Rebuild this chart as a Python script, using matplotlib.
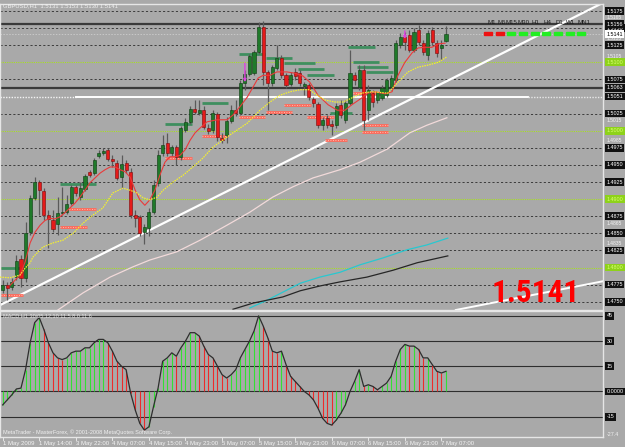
import matplotlib
matplotlib.use('Agg')
import matplotlib.pyplot as plt
from matplotlib import font_manager

# ---------------- data ----------------
opens = [1.4767, 1.4774, 1.4771, 1.4786, 1.4813, 1.4784, 1.4852, 1.4902, 1.4925, 1.4912,
         1.4877, 1.4869, 1.4864, 1.4880, 1.4881, 1.4894, 1.4918, 1.4903, 1.4915, 1.4940,
         1.4938, 1.4963, 1.4967, 1.4972, 1.4959, 1.4953, 1.4932, 1.4953, 1.4940, 1.4877,
         1.4874, 1.4852, 1.4858, 1.4881, 1.4924, 1.4967, 1.4982, 1.4967, 1.4976, 1.4961,
         1.5001, 1.5013, 1.5032, 1.5026, 1.5030, 1.5004, 1.5001, 1.5024, 1.4989, 1.4994,
         1.5014, 1.5030, 1.5026, 1.5070, 1.5083, 1.5084, 1.5115, 1.5152, 1.5086, 1.5070,
         1.5092, 1.5106, 1.5081, 1.5068, 1.5086, 1.5084, 1.5065, 1.5067, 1.5046, 1.5039,
         1.5008, 1.5018, 1.5010, 1.5008, 1.5038, 1.5016, 1.5040, 1.5081, 1.5064, 1.5089,
         1.5030, 1.5055, 1.5045, 1.5048, 1.5052, 1.5064, 1.5074, 1.5125, 1.5137, 1.5140,
         1.5118, 1.5147, 1.5128, 1.5111, 1.5147, 1.5128, 1.5121, 1.5131]
highs = [1.4782, 1.4779, 1.4784, 1.4818, 1.4818, 1.4866, 1.4906, 1.4932, 1.4928, 1.4916,
         1.4884, 1.4884, 1.4903, 1.4918, 1.4906, 1.4921, 1.4921, 1.4925, 1.4937, 1.4943,
         1.4960, 1.4972, 1.4975, 1.4975, 1.4964, 1.4957, 1.4964, 1.4957, 1.4946, 1.4884,
         1.4877, 1.4864, 1.4887, 1.4928, 1.4972, 1.4994, 1.4997, 1.4979, 1.4979, 1.5007,
         1.5018, 1.5036, 1.5045, 1.5045, 1.5036, 1.5010, 1.5030, 1.5027, 1.4997, 1.5020,
         1.5038, 1.5045, 1.5074, 1.5089, 1.5112, 1.5118, 1.5159, 1.5160, 1.5089, 1.5096,
         1.5125, 1.5111, 1.5084, 1.5086, 1.5092, 1.5089, 1.5071, 1.5070, 1.5049, 1.5042,
         1.5020, 1.5023, 1.5016, 1.5040, 1.5045, 1.5045, 1.5118, 1.5086, 1.5096, 1.5096,
         1.5067, 1.5060, 1.5057, 1.5067, 1.5077, 1.5081, 1.5133, 1.5143, 1.5144, 1.5147,
         1.5150, 1.5155, 1.5133, 1.5147, 1.5152, 1.5133, 1.5133, 1.5153]
lows = [1.4763, 1.4752, 1.4767, 1.4782, 1.4771, 1.4779, 1.4847, 1.4899, 1.4877, 1.4869,
        1.4828, 1.4852, 1.4847, 1.4877, 1.4878, 1.4891, 1.4905, 1.4899, 1.4912, 1.4932,
        1.4935, 1.4960, 1.4964, 1.4956, 1.4947, 1.4928, 1.4916, 1.4938, 1.4872, 1.4859,
        1.4846, 1.4834, 1.4846, 1.4878, 1.4919, 1.4963, 1.4963, 1.4963, 1.4950, 1.4957,
        1.4998, 1.5010, 1.5024, 1.5023, 1.5002, 1.4995, 1.4997, 1.4985, 1.4982, 1.4982,
        1.5011, 1.5021, 1.5023, 1.5060, 1.5080, 1.5081, 1.5112, 1.5067, 1.5030, 1.5065,
        1.5089, 1.5077, 1.5062, 1.5065, 1.5074, 1.5065, 1.5052, 1.5045, 1.5035, 1.5004,
        1.5001, 1.5004, 1.4994, 1.5004, 1.5018, 1.5011, 1.5038, 1.5067, 1.5060, 1.5001,
        1.5016, 1.5035, 1.5040, 1.5045, 1.5049, 1.5060, 1.5071, 1.5121, 1.5118, 1.5115,
        1.5115, 1.5125, 1.5111, 1.5103, 1.5125, 1.5108, 1.5103, 1.5130]
closes = [1.4774, 1.4770, 1.4779, 1.4810, 1.4784, 1.4850, 1.4902, 1.4925, 1.4913, 1.4877,
          1.4871, 1.4856, 1.4880, 1.4881, 1.4893, 1.4918, 1.4909, 1.4916, 1.4934, 1.4935,
          1.4957, 1.4967, 1.4970, 1.4959, 1.4956, 1.4931, 1.4951, 1.4943, 1.4877, 1.4872,
          1.4850, 1.4859, 1.4881, 1.4921, 1.4964, 1.4979, 1.4967, 1.4976, 1.4961, 1.5004,
          1.5013, 1.5032, 1.5027, 1.5030, 1.5005, 1.4999, 1.5026, 1.4991, 1.4986, 1.5014,
          1.5030, 1.5026, 1.5070, 1.5083, 1.5109, 1.5115, 1.5152, 1.5086, 1.5070, 1.5093,
          1.5106, 1.5081, 1.5067, 1.5081, 1.5080, 1.5070, 1.5068, 1.5049, 1.5040, 1.5008,
          1.5016, 1.5008, 1.5007, 1.5036, 1.5023, 1.5040, 1.5084, 1.5074, 1.5089, 1.5016,
          1.5060, 1.5042, 1.5057, 1.5062, 1.5074, 1.5077, 1.5128, 1.5137, 1.5130, 1.5118,
          1.5144, 1.5130, 1.5115, 1.5143, 1.5130, 1.5114, 1.5125, 1.5141]

# moving averages (bar position, price)
ma_red_x = [1.6, 3.8, 4.9, 6.0, 7.1, 8.2, 9.3, 10.4, 11.4, 12.5, 13.6, 14.7, 15.8, 16.9, 18.0,
            19.1, 20.2, 21.3, 22.4, 23.5, 24.6, 25.7, 26.8, 27.9, 29.0, 30.0, 31.1, 32.2, 33.3,
            34.4, 35.5, 36.6, 37.7, 38.8, 39.9, 41.0, 42.1, 43.2, 44.7, 46.9, 49.1, 50.4, 51.9,
            53.5, 54.8, 55.9, 57.0, 58.5, 60.0, 62.2, 64.0, 65.7, 67.2, 69.0, 71.2, 73.2, 74.9,
            76.4, 78.6, 79.9, 81.5, 83.7, 85.2, 86.5, 88.0, 89.6, 90.9, 92.4, 93.9, 95.3, 96.8]
ma_red_y = [1.4774, 1.4789, 1.4808, 1.4836, 1.4852, 1.4862, 1.4869, 1.4872, 1.4871, 1.4874,
            1.4880, 1.4887, 1.4894, 1.4903, 1.4913, 1.4924, 1.4931, 1.4938, 1.4943, 1.4947,
            1.4947, 1.4943, 1.4940, 1.4932, 1.4913, 1.4899, 1.4891, 1.4899, 1.4913, 1.4935,
            1.4954, 1.4962, 1.4962, 1.4964, 1.4972, 1.4986, 1.4997, 1.5004, 1.5013, 1.5016,
            1.5016, 1.5023, 1.5035, 1.5049, 1.5064, 1.5077, 1.5081, 1.5081, 1.5086, 1.5086,
            1.5084, 1.5080, 1.5071, 1.5052, 1.5038, 1.5030, 1.5030, 1.5038, 1.5048, 1.5055,
            1.5057, 1.5054, 1.5057, 1.5081, 1.5100, 1.5114, 1.5121, 1.5122, 1.5122, 1.5127,
            1.5128]
ma_yel_x = [-0.6, 1.6, 3.8, 4.9, 6.0, 6.6, 8.8, 11.0, 13.2, 15.4, 17.6, 19.8, 21.9, 24.1, 26.3,
            27.9, 29.4, 30.7, 32.2, 33.8, 35.1, 37.3, 39.5, 41.6, 43.8, 46.0, 50.4, 53.5, 56.3,
            58.5, 60.7, 62.9, 65.1, 67.2, 68.3, 70.5, 72.7, 74.5, 76.4, 78.6, 80.8, 84.3, 86.5,
            88.7, 90.9, 93.1, 95.3, 97.2]
ma_yel_y = [1.4786, 1.4785, 1.4789, 1.4799, 1.4807, 1.4815, 1.4830, 1.4836, 1.4840, 1.4850,
            1.4865, 1.4877, 1.4887, 1.4909, 1.4916, 1.4913, 1.4909, 1.4902, 1.4899, 1.4903,
            1.4913, 1.4925, 1.4935, 1.4947, 1.4960, 1.4976, 1.4997, 1.5011, 1.5030, 1.5042,
            1.5052, 1.5057, 1.5060, 1.5060, 1.5054, 1.5045, 1.5042, 1.5042, 1.5048, 1.5055,
            1.5057, 1.5055, 1.5071, 1.5086, 1.5093, 1.5096, 1.5100, 1.5108]
ma_pink_x = [12.1, 17.6, 23.5, 28.5, 32.2, 38.1, 43.2, 49.1, 54.1, 59.1, 63.5, 67.9, 73.8,
             78.2, 84.1, 89.1, 92.8, 97.2]
ma_pink_y = [1.4738, 1.4763, 1.4786, 1.4801, 1.4811, 1.4823, 1.4840, 1.4862, 1.4881, 1.4903,
             1.4918, 1.4931, 1.4943, 1.4954, 1.4973, 1.4997, 1.5008, 1.5019]
ma_cyan_x = [54.1, 57.8, 65.1, 69.4, 73.8, 78.2, 83.2, 88.5, 92.8, 97.4]
ma_cyan_y = [1.4741, 1.4752, 1.4777, 1.4786, 1.4793, 1.4804, 1.4814, 1.4826, 1.4833, 1.4843]
ma_black_x = [50.4, 54.8, 61.3, 65.1, 69.4, 73.8, 79.7, 85.4, 90.7, 97.4]
ma_black_y = [1.4739, 1.4748, 1.4757, 1.4766, 1.4773, 1.4779, 1.4786, 1.4796, 1.4807, 1.4817]

# trendlines (two anchors each, extended)
trend1_x = [0.0, 120.0]
trend1_y = [1.4747, 1.5149]
trend2_x = [100.0, 131.4]
trend2_y = [1.4739, 1.4780]

# support / resistance short segments: (price, start bar, end bar)
green_segs = [(1.4799, 0, 4), (1.4922, 13, 20), (1.5010, 36, 41), (1.5040, 44, 49),
              (1.5112, 52, 57), (1.5106, 58, 63), (1.5099, 62, 68), (1.5090, 65, 70),
              (1.5081, 67, 72), (1.5026, 72, 76), (1.5122, 76, 81), (1.5100, 77, 82),
              (1.5093, 78, 84), (1.5086, 80, 85)]
red_segs = [(1.4760, 0, 4), (1.4859, 13, 18), (1.4885, 15, 20), (1.4960, 36, 41),
            (1.4992, 44, 49), (1.5020, 52, 57), (1.5027, 58, 63), (1.5038, 62, 67),
            (1.5020, 67, 72), (1.4986, 71, 75), (1.5055, 77, 82), (1.5008, 79, 84),
            (1.4998, 79, 84)]

# arrows (bar, top price, bottom price)
arrows = [(53, 1.5103, 1.5067), (88, 1.5150, 1.5130)]

# horizontal levels
dash_levels = [1.5175, 1.5150, 1.5125, 1.5075, 1.5025, 1.4975, 1.4950, 1.4925, 1.4875,
               1.4850, 1.4825, 1.4775, 1.4750]
green_levels = [1.5100, 1.5000, 1.4900, 1.4800]
solid_levels = [1.5156, 1.5063]
white_level = 1.5050
bid = 1.5141
scale_ticks = [1.5165, 1.5135, 1.5105, 1.5015, 1.4985, 1.4865, 1.4835]
scale_pos = [1.5165, 1.5135, 1.5109, 1.5015, 1.4985, 1.4865, 1.4835]

# MACD-like oscillator per bar
macd = [-8, -5, -2, 1.5, 2, 13, 29, 41, 44, 37, 29, 23, 20, 19, 20, 23, 24, 24, 26, 26,
        29, 31, 31, 29, 24, 18, 15, 13, -1, -11, -19, -23, -21, -9, 2, 18, 20, 23, 21, 26,
        30, 35, 35, 33, 27, 22, 20, 15, 10, 8, 10, 13, 20, 25, 30, 36, 45, 39, 32, 24,
        23, 24, 16, 9, 6, 3, 0, -2, -5, -10, -16, -19, -20, -17, -13, -8, 0, 6, 13, 3,
        4, 3, 1, 3, 5, 9, 18, 25, 28, 27, 27, 25, 20, 20, 16, 12, 11, 12]
macd_levels = [45, 30, 15, 0, -15]
macd_labels = ['45', '30', '15', '0.0000', '-15']

time_pos = [0, 8, 16, 24, 32, 40, 48, 56, 64, 72, 80, 88, 96]
time_labels = ['1 May 2009', '1 May 14:00', '3 May 22:00', '4 May 07:00', '4 May 15:00',
               '4 May 23:00', '5 May 07:00', '5 May 15:00', '5 May 23:00', '6 May 07:00',
               '6 May 15:00', '6 May 23:00', '7 May 07:00']

tf_names = ['M1', 'M5', 'M15', 'M30', 'H1', 'H4', 'D1', 'W1', 'MN1']
tf_up = [False, False, True, True, True, True, True, True, True]

# ---------------- figure ----------------
W, H = 625, 447
BG = '#a9a9a9'
SMALL = 'Liberation Sans'
plt.rcParams['font.family'] = [SMALL, 'DejaVu Sans']
fig = plt.figure(figsize=(W / 100, H / 100), dpi=100)
fig.patch.set_facecolor(BG)

def fy(py):
    return 1 - py / H

ax = fig.add_axes([0, fy(310), 603 / W, (310 - 4) / H])
ax2 = fig.add_axes([0, fy(437), 603 / W, (437 - 311) / H])
for a in (ax, ax2):
    a.set_facecolor(BG)
    a.set_xticks([])
    a.set_yticks([])
    for s in a.spines.values():
        s.set_color('#e6e6e6')
        s.set_linewidth(1.0)

xmin, xmax = -0.59, 131.36
ax.set_xlim(xmin, xmax)
ax.set_ylim(1.47379, 1.51853)
ax2.set_xlim(xmin, xmax)
ax2.set_ylim(-27.1, 47.9)

# levels
for lv in dash_levels:
    ax.axhline(lv, color='#3c3c3c', lw=0.7, ls=(0, (2.2, 2.2)), zorder=1)
for lv in green_levels:
    ax.axhline(lv, color='#a8e020', lw=0.8, ls=(0, (1, 1)), zorder=1)
for lv in solid_levels:
    ax.axhline(lv, color='#3a3a3a', lw=1.6, zorder=1)
ax.axhline(bid, color='#c8c8c8', lw=0.7, ls=(0, (1.5, 1.5)), zorder=1)
ax.plot([xmin, 16], [white_level] * 2, color='#f4f4f4', lw=1.0, ls=(0, (1, 1)), zorder=2)
ax.plot([16, 115], [white_level] * 2, color='#ffffff', lw=1.4, zorder=2)
ax.plot([115, xmax], [white_level] * 2, color='#e8e8e8', lw=1.0, ls=(0, (1, 1)), zorder=2)

# segments
for p, a0, a1 in green_segs:
    ax.plot([a0 - 0.4, a1 + 0.4], [p, p], color='#3f8f5f', lw=2.0, solid_capstyle='butt', zorder=3)
for p, a0, a1 in red_segs:
    ax.plot([a0 - 0.4, a1 + 0.4], [p, p], color='#ff6a5a', lw=2.0, solid_capstyle='butt', zorder=3)
    ax.plot([a0 - 0.4, a1 + 0.4], [p, p], color='#ffd0c8', lw=0.6, ls=(0, (1, 2)), zorder=3)

# moving averages
ax.plot(ma_pink_x, ma_pink_y, color='#f2dada', lw=0.9, zorder=2)
ax.plot(ma_cyan_x, ma_cyan_y, color='#28c8d0', lw=0.9, zorder=2)
ax.plot(ma_black_x, ma_black_y, color='#262626', lw=0.9, zorder=2)

# trendlines
ax.axline((trend1_x[0], trend1_y[0]), (trend1_x[1], trend1_y[1]), color='#ffffff', lw=1.6, zorder=2)
ax.axline((trend2_x[0], trend2_y[0]), (trend2_x[1], trend2_y[1]), color='#ffffff', lw=1.4, zorder=2)

# candles
for i in range(len(closes)):
    o, h, l, c = opens[i], highs[i], lows[i], closes[i]
    up = c >= o
    ax.vlines(i, l, h, color='#5a5a5a', lw=0.9, zorder=4)
    bot = min(o, c)
    ht = max(abs(c - o), 0.00012)
    ax.bar(i, ht, bottom=bot, width=0.68,
           color='#1f7a2a' if up else '#e51a1a',
           edgecolor='#0c3a10' if up else '#7a0a0a', lw=0.4, zorder=5)

ax.plot(ma_red_x, ma_red_y, color='#ea3a3a', lw=0.8, zorder=6)
ax.plot(ma_yel_x, ma_yel_y, color='#f4f030', lw=0.9, ls=(0, (1.2, 0.8)), zorder=6)

for b, top, bot in arrows:
    ax.annotate('', xy=(b, bot), xytext=(b, top),
                arrowprops=dict(arrowstyle='-|>', color='#e040e0', lw=1.0,
                                mutation_scale=4), zorder=7)

# right-side labels
FS = 3.9
ytr = ax.get_yaxis_transform()
for t, pos in zip(scale_ticks, scale_pos):
    ax.text(1.006, pos, f'{t:.4f}', transform=ytr, fontsize=3.6, color='#f4f4f4',
            va='center', ha='left', clip_on=False)

def boxlabel(a, tr, y, s, fc, tc):
    a.text(1.006, y, s, transform=tr, fontsize=FS, color=tc, va='center', ha='left',
           clip_on=False, bbox=dict(boxstyle='square,pad=0.25', fc=fc, ec='none'))

for lv in dash_levels + solid_levels:
    boxlabel(ax, ytr, lv, f'{lv:.4f}', '#111111', '#ffffff')
boxlabel(ax, ytr, white_level, '1.5051', '#111111', '#ffffff')
for lv in green_levels:
    boxlabel(ax, ytr, lv, f'{lv:.4f}', '#8ed21a', '#d8ff70')
boxlabel(ax, ytr, bid, f'{bid:.4f}', '#ffffff', '#000000')

# title
fig.text(3 / W, fy(6), 'GBPUSD,H1  1.5131 1.5153 1.5130 1.5141', fontsize=4.2,
         color='#f0f0f0', va='center', ha='left')

# timeframe panel
tf_x = [487, 497, 506, 517, 532, 543, 555, 566, 577]
dash_x = [484, 496, 507, 519, 531, 542, 554, 566, 577]
for name, px, dx, up in zip(tf_names, tf_x, dash_x, tf_up):
    fig.text(px / W, fy(22), name, fontsize=4.4, color='#1a1a1a', va='center', ha='left')
    fig.patches.append(plt.Rectangle((dx / W, fy(34.5)), 8 / W, 2.6 / H,
                                     transform=fig.transFigure,
                                     color='#22ee22' if up else '#ee1111'))

# big price text
fams = set(f.name for f in font_manager.fontManager.ttflist)
bigfam, bigsize = 'Liberation Sans', 20
for cand in ['Liberation Sans Narrow', 'Roboto Condensed', 'Arial Narrow', 'Open Sans Condensed']:
    if cand in fams:
        bigfam, bigsize = cand, 22.5
        break
fig.text(492 / W, fy(302), '1.5141', fontsize=bigsize, fontweight='bold', color='#ff0000',
         family=bigfam, ha='left', va='baseline')

# ---------------- oscillator ----------------
for lv in macd_levels:
    ax2.axhline(lv, color='#2e2e2e', lw=0.8, zorder=1)
prev = macd[0]
for i, v in enumerate(macd):
    col = '#33e033' if v >= prev else '#ee2a2a'
    ax2.vlines(i, 0, v, color=col, lw=0.8, zorder=2)
    prev = v
ax2.plot(range(len(macd)), macd, color='#2e2e2e', lw=0.9, zorder=3)

ytr2 = ax2.get_yaxis_transform()
for lv, lab in zip(macd_levels, macd_labels):
    boxlabel(ax2, ytr2, lv, lab, '#111111', '#ffffff')
ax2.text(1.006, -25.5, '-27.4', transform=ytr2, fontsize=FS, color='#f0f0f0',
         va='center', ha='left', clip_on=False)

fig.text(3 / W, fy(316), 'MACD H1 30/05,12,10 11.5 8.0 11.6', fontsize=4.0,
         color='#e4e4e4', va='center', ha='left')
fig.text(3 / W, fy(432), 'MetaTrader - MasterForex, \u00a9 2001-2008 MetaQuotes Software Corp.',
         fontsize=4.0, color='#f0f0f0', va='center', ha='left')

xtr = ax2.get_xaxis_transform()
for p, lab in zip(time_pos, time_labels):
    ax2.plot([p, p], [0, -0.025], transform=xtr, color='#f0f0f0', lw=0.6, clip_on=False)
    ax2.text(p, -0.035, lab, transform=xtr, fontsize=4.3, color='#f4f4f4',
             va='top', ha='left', clip_on=False)

fig.savefig('out.png', dpi=100, facecolor=BG)
